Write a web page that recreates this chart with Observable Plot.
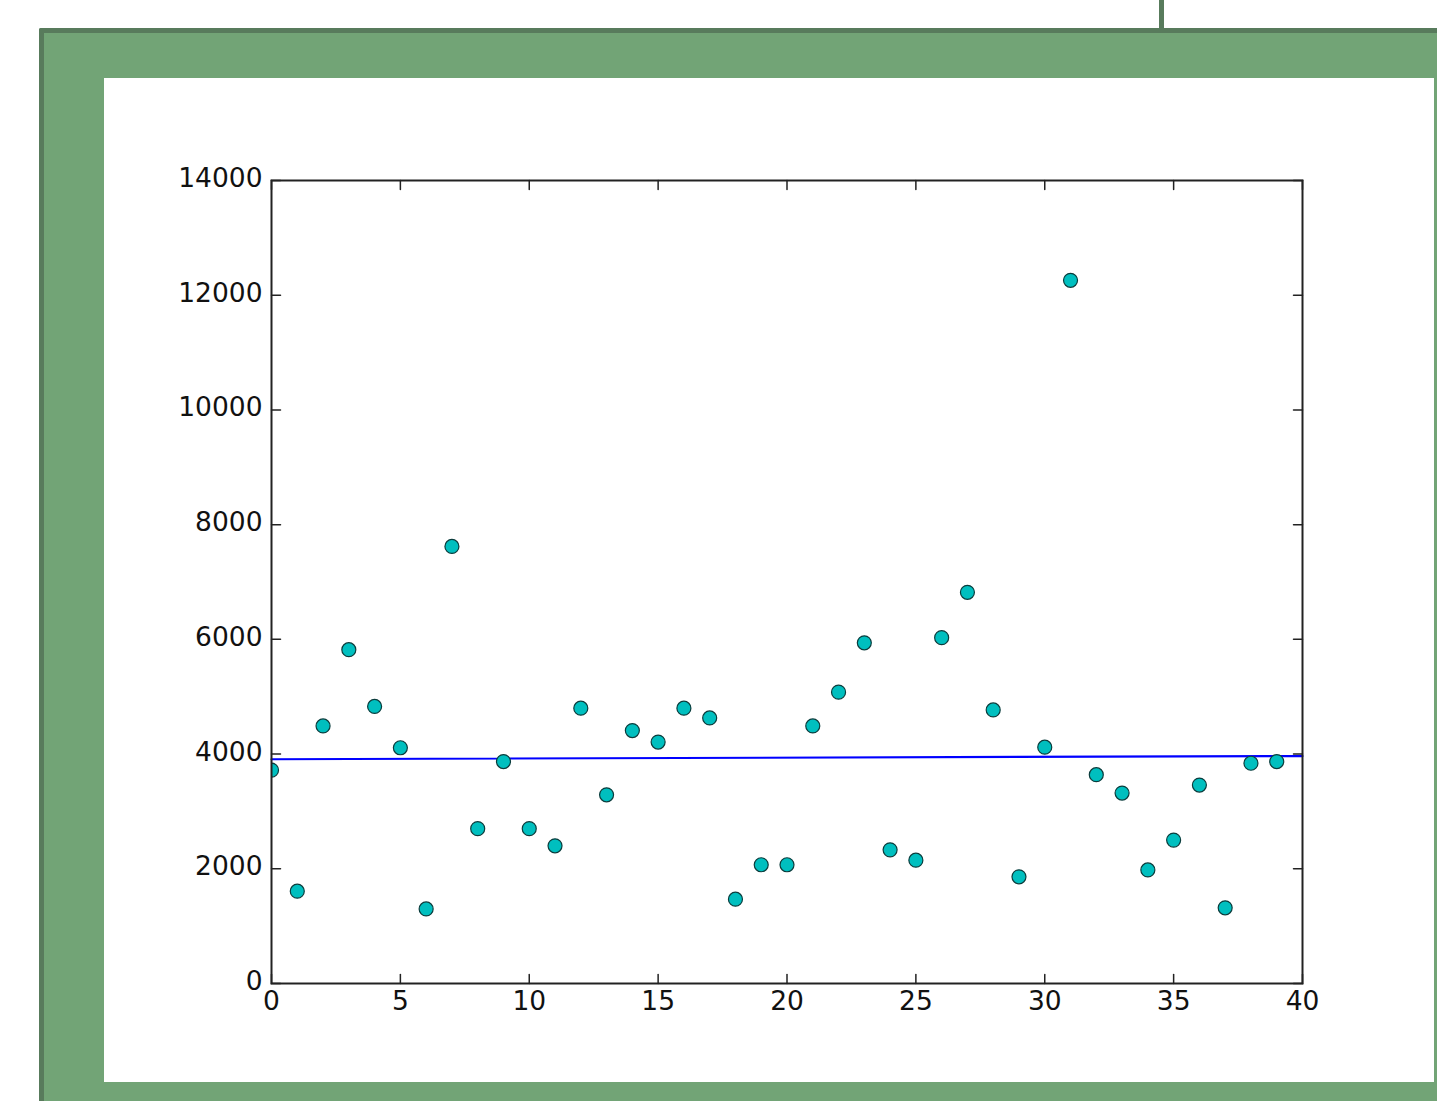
<!DOCTYPE html>
<html>
<head>
<meta charset="utf-8">
<script src="https://cdn.jsdelivr.net/npm/d3@7"></script>
<script src="https://cdn.jsdelivr.net/npm/@observablehq/plot@0.6"></script>
<style>
  html, body { margin: 0; padding: 0; background: #fff; overflow: hidden; }
  body { width: 1437px; height: 1101px; position: relative; }
  #vline { position: absolute; left: 1159px; top: 0; width: 5px; height: 30px; background: #587b5c; }
  #frame { position: absolute; left: 39px; top: 28px; width: 1420px; height: 1100px;
           background: #72a476; border-left: 5px solid #587b5c; border-top: 5px solid #587b5c; border-radius: 2px 0 0 0; }
  #panel { position: absolute; left: 104px; top: 78px; width: 1330px; height: 1004px; background: #fff; }
  #panel svg { display: block; }
</style>
</head>
<body>
<div id="vline"></div>
<div id="frame"></div>
<div id="panel"></div>
<script>
// Data
const xs = [0,1,2,3,4,5,6,7,8,9,10,11,12,13,14,15,16,17,18,19,20,21,22,23,24,25,26,27,28,29,30,31,32,33,34,35,36,37,38,39];
const ys = [3720,1610,4490,5820,4830,4110,1300,7620,2700,3870,2700,2400,4800,3290,4410,4210,4800,4630,1470,2070,
            2070,4490,5080,5940,2330,2150,6030,6820,4770,1860,4120,12260,3640,3320,1980,2500,3460,1320,3840,3870];
const fitX = [0, 40];
const fitY = [3910, 3965];
const xTicks = [0,5,10,15,20,25,30,35,40];
const yTicks = [0,2000,4000,6000,8000,10000,12000,14000];

const points = xs.map((x, i) => ({x, y: ys[i]}));
const fit = fitX.map((x, i) => ({x, y: fitY[i]}));

const tickShape = { draw(context, l) { context.moveTo(0, 0); context.lineTo(0, -l); } };

const chart = Plot.plot({
  width: 1330,
  height: 1004,
  marginLeft: 167,
  marginRight: 132,
  marginTop: 102,
  marginBottom: 99,
  style: { fontFamily: "DejaVu Sans", fontSize: "26px", color: "#000", background: "#fff" },
  x: { domain: [0, 40] },
  y: { domain: [0, 14000] },
  marks: [
    Plot.axisX(xTicks, { anchor: "bottom", tickSize: 0, tickPadding: 8, label: null, fontSize: 26.5, fill: "#111", tickFormat: d => String(d) }),
    Plot.axisY(yTicks, { anchor: "left", tickSize: 0, tickPadding: 9, dy: -2, label: null, fontSize: 26.5, fill: "#111", tickFormat: d => String(d) }),
    // inward ticks on all four sides
    Plot.vector(xTicks, { x: d => d, y: 0, length: 9, rotate: 0, anchor: "start", shape: tickShape, stroke: "#222", strokeWidth: 1.5 }),
    Plot.vector(xTicks, { x: d => d, y: 14000, length: 9, rotate: 180, anchor: "start", shape: tickShape, stroke: "#222", strokeWidth: 1.5 }),
    Plot.vector(yTicks, { x: 0, y: d => d, length: 9, rotate: 90, anchor: "start", shape: tickShape, stroke: "#222", strokeWidth: 1.5 }),
    Plot.vector(yTicks, { x: 40, y: d => d, length: 9, rotate: -90, anchor: "start", shape: tickShape, stroke: "#222", strokeWidth: 1.5 }),
    Plot.line(fit, { x: "x", y: "y", stroke: "#0000ff", strokeWidth: 2.2 }),
    Plot.dot(points, { x: "x", y: "y", r: 7, fill: "#00bfbf", stroke: "#0b3c3c", strokeWidth: 1.2, clip: true }),
    Plot.frame({ stroke: "#222", strokeWidth: 2 })
  ]
});
document.getElementById("panel").appendChild(chart);
</script>
</body>
</html>
